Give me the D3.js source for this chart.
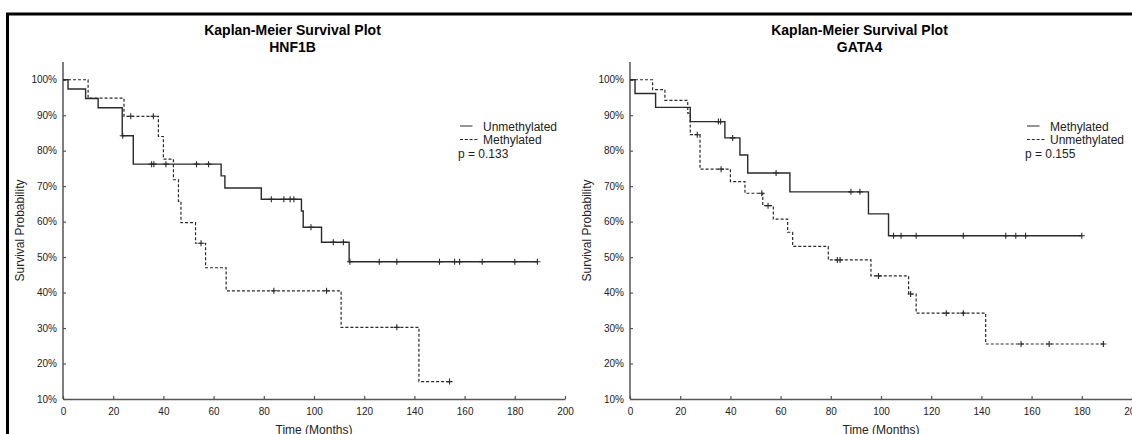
<!DOCTYPE html>
<html>
<head>
<meta charset="utf-8">
<script src="https://cdn.jsdelivr.net/npm/d3@7"></script>
<style>
  body { margin: 0; background: #fff; }
  svg { display: block; font-family: Arial, "Liberation Sans", sans-serif; }
</style>
</head>
<body>
<svg id="chart" width="1132" height="434"></svg>
<script>
// ---- data ----
const xTicks = [0, 20, 40, 60, 80, 100, 120, 140, 160, 180, 200];
const yTicks = [0.1, 0.2, 0.3, 0.4, 0.5, 0.6, 0.7, 0.8, 0.9, 1.0];

// HNF1B
const hnfUnmethTimes = [0, 2, 9, 14, 23.6, 28, 63, 64.5, 79, 95, 95.7, 103, 114];
const hnfUnmethSurv = [1, 0.974, 0.947, 0.921, 0.842, 0.762, 0.729, 0.695, 0.663, 0.63, 0.584, 0.542, 0.487];
const hnfUnmethEnd = 189;
const hnfUnmethCensor = [23.8, 35.3, 36.2, 41, 53.2, 58, 83, 88, 90.5, 92, 98.8, 107.7, 111.7, 114.3, 126, 133, 150, 156, 158, 167, 180, 189];

const hnfMethTimes = [0, 10, 24.3, 38, 40, 44, 46, 47, 52.8, 56.8, 65, 110.8, 141.8];
const hnfMethSurv = [1, 0.948, 0.897, 0.84, 0.776, 0.718, 0.657, 0.597, 0.539, 0.47, 0.405, 0.302, 0.149];
const hnfMethEnd = 154;
const hnfMethCensor = [27, 36, 55, 84, 105, 133, 154];

// GATA4
const gataMethTimes = [0, 2, 10.2, 24, 37.8, 43.8, 46.9, 63.7, 95, 103];
const gataMethSurv = [1, 0.961, 0.922, 0.882, 0.836, 0.788, 0.737, 0.684, 0.622, 0.56];
const gataMethEnd = 180;
const gataMethCensor = [35.2, 36.1, 40.9, 58.2, 88, 91.6, 105, 108, 114, 132.8, 149.7, 153.7, 157.6, 180];

const gataUnmethTimes = [0, 9, 13.9, 23, 24, 27.9, 40, 45.8, 52.9, 57.1, 62.8, 64.8, 79, 96, 111, 114, 141.7];
const gataUnmethSurv = [1, 0.972, 0.942, 0.906, 0.845, 0.748, 0.713, 0.68, 0.645, 0.607, 0.57, 0.53, 0.492, 0.447, 0.396, 0.342, 0.255];
const gataUnmethEnd = 188.6;
const gataUnmethCensor = [26.8, 36.3, 52.5, 55, 82.6, 83.7, 99, 111.8, 126, 132.8, 155.8, 167, 188.6];

const panels = [
    {
        x0: 63, gene: 'HNF1B', p: 'p = 0.133',
        curves: [
            { name: 'Unmethylated', times: hnfUnmethTimes, surv: hnfUnmethSurv, end: hnfUnmethEnd, censor: hnfUnmethCensor, dash: null },
            { name: 'Methylated', times: hnfMethTimes, surv: hnfMethSurv, end: hnfMethEnd, censor: hnfMethCensor, dash: '3,2' }
        ]
    },
    {
        x0: 630, gene: 'GATA4', p: 'p = 0.155',
        curves: [
            { name: 'Methylated', times: gataMethTimes, surv: gataMethSurv, end: gataMethEnd, censor: gataMethCensor, dash: null },
            { name: 'Unmethylated', times: gataUnmethTimes, surv: gataUnmethSurv, end: gataUnmethEnd, censor: gataUnmethCensor, dash: '3,2' }
        ]
    }
];

const svg = d3.select('#chart');
const plotW = 502, yTop = 62, yBottom = 399;
const axisColor = '#555';
const lineColor = '#2a2a2a';

// outer frame (only top and left edges are in view)
svg.append('path')
    .attr('d', 'M7.5,434V14H1132')
    .attr('fill', 'none')
    .attr('stroke', '#000')
    .attr('stroke-width', 3);

function survAt(times, surv, t) {
    let i = d3.bisectRight(times, t) - 1;
    return surv[Math.max(i, 0)];
}

panels.forEach(panel => {
    const x = d3.scaleLinear().domain([0, 200]).range([panel.x0, panel.x0 + plotW]);
    const y = d3.scaleLinear().domain([0.1, 1.05]).range([yBottom, yTop]);
    const g = svg.append('g');

    // Titles
    const cx = panel.x0 + 229.5;
    g.append('text')
        .attr('x', cx).attr('y', 34.5)
        .attr('text-anchor', 'middle')
        .attr('font-size', '14px').attr('font-weight', 'bold').attr('fill', '#000')
        .text('Kaplan-Meier Survival Plot');
    g.append('text')
        .attr('x', cx).attr('y', 51.5)
        .attr('text-anchor', 'middle')
        .attr('font-size', '14px').attr('font-weight', 'bold').attr('fill', '#000')
        .text(panel.gene);

    // Axes
    const xAxis = g.append('g')
        .attr('transform', `translate(0,${yBottom})`)
        .call(d3.axisBottom(x).tickValues(xTicks).tickSize(-3).tickSizeOuter(0).tickPadding(9).tickFormat(d3.format('d')));
    const yAxis = g.append('g')
        .attr('transform', `translate(${panel.x0},0)`)
        .call(d3.axisLeft(y).tickValues(yTicks).tickSize(-3).tickSizeOuter(0).tickPadding(6).tickFormat(d3.format('.0%')));
    [xAxis, yAxis].forEach(a => {
        a.select('.domain').attr('stroke', axisColor).attr('stroke-width', 1.5);
        a.selectAll('.tick line').attr('stroke', axisColor).attr('stroke-width', 1.2);
        a.selectAll('.tick text').attr('font-size', '10px').attr('fill', '#222')
            .attr('font-family', 'Arial, "Liberation Sans", sans-serif');
    });
    // y axis extends to top of range
    yAxis.select('.domain').attr('d', `M0,${yTop}V${yBottom}`);

    // Axis labels
    g.append('text')
        .attr('transform', `translate(${panel.x0 - 39},${(yTop + yBottom) / 2}) rotate(-90)`)
        .attr('text-anchor', 'middle')
        .attr('font-size', '12px').attr('fill', '#222')
        .text('Survival Probability');
    g.append('text')
        .attr('x', panel.x0 + plotW / 2).attr('y', 433.5)
        .attr('text-anchor', 'middle')
        .attr('font-size', '12px').attr('fill', '#222')
        .text('Time (Months)');

    // Curves
    panel.curves.forEach(c => {
        const pts = c.times.map((t, i) => [t, c.surv[i]]);
        pts.push([c.end, c.surv[c.surv.length - 1]]);
        const line = d3.line().x(d => x(d[0])).y(d => y(d[1])).curve(d3.curveStepAfter);
        g.append('path')
            .attr('d', line(pts))
            .attr('fill', 'none')
            .attr('stroke', lineColor)
            .attr('stroke-width', c.dash ? 1.2 : 1.4)
            .attr('stroke-dasharray', c.dash);

        // censor marks
        g.selectAll(null)
            .data(c.censor)
            .enter()
            .append('path')
            .attr('d', t => {
                const px = x(t), py = y(survAt(c.times, c.surv, t));
                return `M${px - 3},${py}H${px + 3}M${px},${py - 3}V${py + 3}`;
            })
            .attr('stroke', lineColor)
            .attr('stroke-width', 1.1)
            .attr('fill', 'none');
    });

    // Legend
    const lx = panel.x0 + 397;
    panel.curves.forEach((c, i) => {
        const ly = 126 + i * 13.5;
        g.append('line')
            .attr('x1', lx).attr('x2', lx + (c.dash ? 18 : 12.5))
            .attr('y1', ly).attr('y2', ly)
            .attr('stroke', lineColor)
            .attr('stroke-width', 1)
            .attr('stroke-dasharray', c.dash ? '3,1.8' : null);
        g.append('text')
            .attr('x', lx + 23).attr('y', ly + 4.5)
            .attr('font-size', '12px').attr('fill', '#222')
            .text(c.name);
    });
    g.append('text')
        .attr('x', lx - 2).attr('y', 157.5)
        .attr('font-size', '12px').attr('fill', '#222')
        .text(panel.p);
});
</script>
</body>
</html>
